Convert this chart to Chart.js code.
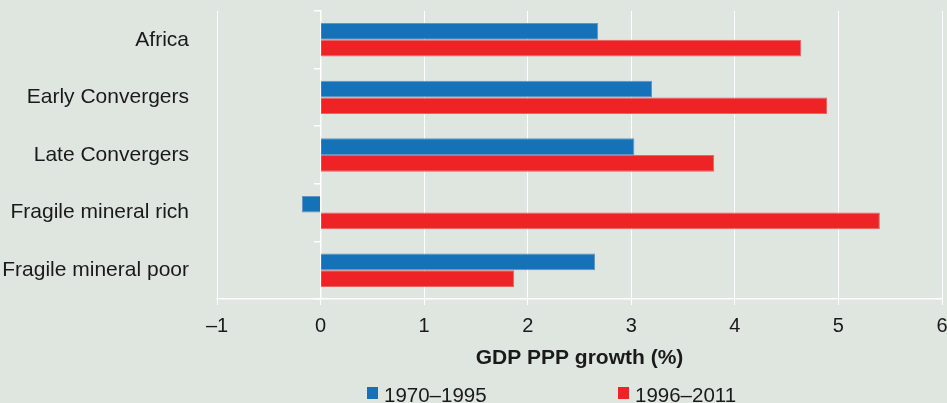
<!DOCTYPE html>
<html>
<head>
<meta charset="utf-8">
<script src="https://cdn.jsdelivr.net/npm/chart.js@4"></script>
<style>
    html, body { margin: 0; padding: 0; background: #dfe5df; }
    #wrap { position: relative; width: 947px; height: 403px; overflow: hidden; }
    #wrap canvas { display: block; }
    .legend-item {
        position: absolute; top: 383px;
        font: 20.5px "Liberation Sans", Arial, sans-serif; line-height: 24px;
        color: #1a1a1a; white-space: nowrap;
    }
    .legend-item .box { position: absolute; top: 4px; left: -17px; width: 11px; height: 12px; }
</style>
</head>
<body>
<div id="wrap">
    <canvas id="chart" width="947" height="403"></canvas>
</div>
<script>
// --- データ ---
const categories   = ['Africa', 'Early Convergers', 'Late Convergers', 'Fragile mineral rich', 'Fragile mineral poor'];
const seriesNames  = ['1970–1995', '1996–2011'];
const growthEarly  = [2.68, 3.20, 3.03, -0.18, 2.65];   // 1970–1995
const growthLate   = [4.64, 4.89, 3.80, 5.40, 1.87];    // 1996–2011
const xTickLabels  = ['–1', '0', '1', '2', '3', '4', '5', '6'];
const xMin = -1, xMax = 6;

const colors       = ['#1571b8', '#ee2326'];
const edgeColors   = ['#5d97c8', '#ee6062'];
const textColor    = '#1a1a1a';
const fontFamily   = '"Liberation Sans", Arial, sans-serif';

const datasets = [growthEarly, growthLate].map((data, i) => ({
    label: seriesNames[i],
    data,
    backgroundColor: colors[i],
    borderColor: edgeColors[i],
    borderWidth: 1,
    categoryPercentage: 0.58,
    barPercentage: 1.0
}));

new Chart(document.getElementById('chart'), {
    type: 'bar',
    data: { labels: categories, datasets },
    options: {
        indexAxis: 'y',
        responsive: false,
        animation: false,
        layout: { padding: { top: 11, right: 5, bottom: 31, left: 0 } },
        plugins: {
            legend:  { display: false },
            tooltip: { enabled: false }
        },
        scales: {
            x: {
                type: 'linear', min: xMin, max: xMax,
                grid:   { color: '#ffffff', lineWidth: 1, tickLength: 6 },
                border: { display: true, color: '#ffffff', width: 1.5 },
                ticks: {
                    stepSize: 1, padding: 9, color: textColor,
                    font: { family: fontFamily, size: 20 },
                    callback: (val) => xTickLabels[Math.round(val) - xMin]
                },
                title: {
                    display: true, text: 'GDP PPP growth (%)', color: textColor,
                    font: { family: fontFamily, size: 21, weight: 'bold' },
                    padding: { top: 9, bottom: 1 }
                },
                afterFit: (scale) => {
                    scale.height = 73;
                    scale.paddingLeft = 0;
                    scale.paddingRight = 0;
                }
            },
            y: {
                type: 'category',
                grid:   { display: false },
                border: { display: false },
                ticks: {
                    padding: 20, color: textColor,
                    font: { family: fontFamily, size: 21 }
                },
                afterFit: (scale) => {
                    scale.width = 217;
                    scale.paddingTop = 0;
                    scale.paddingBottom = 0;
                }
            },
            // 0 の位置の縦軸（区切りの短いティックのみ）
            y2: {
                type: 'category', axis: 'y',
                labels: categories,
                position: { x: 0 },
                offset: true,
                grid: {
                    offset: true, drawOnChartArea: false,
                    color: '#ffffff', lineWidth: 1.5, tickLength: 6
                },
                border: { display: true, color: '#ffffff', width: 1.5 },
                ticks: { display: false }
            }
        }
    }
});

// --- 凡例 (HTML) ---
const wrap = document.getElementById('wrap');
const legendLeft = [384, 635];
datasets.forEach((ds, i) => {
    const item = document.createElement('div');
    item.className = 'legend-item';
    item.style.left = legendLeft[i] + 'px';
    item.innerHTML = `<span class="box" style="background:${ds.backgroundColor}"></span>${ds.label}`;
    wrap.appendChild(item);
});
</script>
</body>
</html>
